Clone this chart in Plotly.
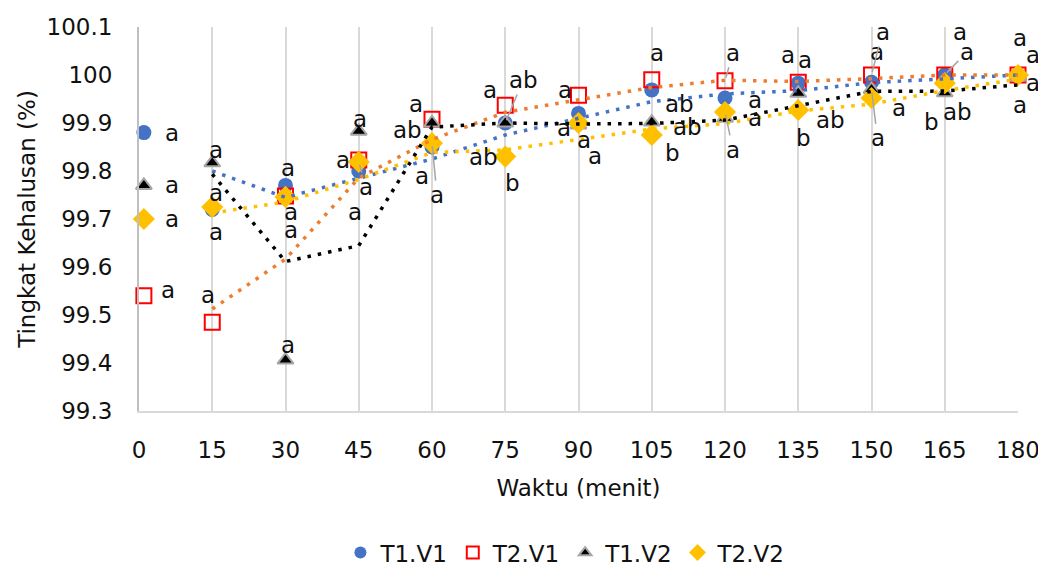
import plotly.graph_objects as go

# ---------------- data ----------------
waktu = [1, 15, 30, 45, 60, 75, 90, 105, 120, 135, 150, 165, 180]
x_ticks = [0, 15, 30, 45, 60, 75, 90, 105, 120, 135, 150, 165, 180]

t1v1 = [99.88, 99.72, 99.77, 99.80, 99.85, 99.90, 99.92, 99.969, 99.952, 99.983, 99.985, 100.0, 100.0]
t2v1 = [99.54, 99.485, 99.748, 99.823, 99.908, 99.937, 99.958, 99.99, 99.988, 99.985, 100.0, 100.0, 100.0]
t1v2 = [99.77, 99.817, 99.406, 99.883, 99.90, 99.90, 99.896, 99.902, 99.91, 99.962, 99.97, 99.963, 99.996]
t2v2 = [99.70, 99.725, 99.746, 99.819, 99.858, 99.83, 99.90, 99.875, 99.923, 99.927, 99.952, 99.983, 100.0]

lab_t1v1 = ["a", "a", "a", "a", "a", "ab", "a", "ab", "a", "a", "a", "a", "a"]
lab_t2v1 = ["a", "a", "a", "a", "a", "a", "a", "a", "a", "a", "a", "a", "a"]
lab_t1v2 = ["a", "a", "a", "a", "ab", "ab", "a", "ab", "a", "ab", "a", "ab", "a"]
lab_t2v2 = ["a", "a", "a", "a", "a", "b", "a", "b", "a", "b", "a", "b", "a"]

series_names = ["T1.V1", "T2.V1", "T1.V2", "T2.V2"]

# ---------------- style ----------------
FONT = "DejaVu Sans"
FS = 23
TXT = "#111111"

# label offsets in pixels (dx, dy, leader)
off_t1v1 = [(28, 0, 0), (4, 23, 0), (2, -17, 0), (-4, 41, 0), (-10, 29, 0), (-22, 34, 0),
            (-15, 15, 0), (28, 14, 0), (30, 2, 0), (7, -23, 0), (5, -30, 0), (22, -23, 1), (15, -20, 0)]
off_t2v1 = [(24, -6, 0), (-4, -27, 0), (5, 16, 0), (-16, 0, 0), (-16, -15, 0), (-15, -15, 0),
            (-14, -5, 0), (5, -27, 0), (8, -28, 1), (-10, -27, 0), (11, -43, 1), (15, -43, 0), (2, -37, 0)]
off_t1v2 = [(28, 0, 0), (4, -13, 0), (2, -15, 0), (1, -12, 0), (-25, 7, 0), (18, -43, 1),
            (16, 31, 0), (36, 5, 0), (30, 0, 0), (32, 27, 0), (6, 49, 1), (13, 19, 0), (15, 6, 0)]
off_t2v2 = [(28, 0, 0), (4, -14, 0), (5, 33, 0), (7, 25, 1), (5, 52, 1), (7, 26, 0),
            (5, 17, 0), (21, 18, 0), (8, 38, 1), (5, 28, 0), (27, 10, 0), (-13, 39, 0), (2, 30, 0)]

trend_colors = ["#4472C4", "#ED7D31", "#000000", "#FFC000"]
markers = [
    dict(symbol="circle", size=15, color="#4472C4"),
    dict(symbol="square-open", size=15, color="#FF0000", line=dict(color="#FF0000", width=2)),
    dict(symbol="triangle-up", size=14, color="#000000", line=dict(color="#A5A5A5", width=2)),
    dict(symbol="diamond", size=17, color="#FFC000"),
]
legend_markers = [
    dict(symbol="circle", size=12, color="#4472C4"),
    dict(symbol="square-open", size=12, color="#FF0000", line=dict(color="#FF0000", width=2)),
    dict(symbol="triangle-up", size=11, color="#000000", line=dict(color="#A5A5A5", width=2)),
    dict(symbol="diamond", size=13, color="#FFC000"),
]

values = [t1v1, t2v1, t1v2, t2v2]
labels = [lab_t1v1, lab_t2v1, lab_t1v2, lab_t2v2]
offsets = [off_t1v1, off_t2v1, off_t1v2, off_t2v2]

fig = go.Figure()

for name, ys, mk in zip(series_names, values, markers):
    fig.add_trace(go.Scatter(x=waktu, y=ys, mode="markers", name=name, marker=mk,
                             cliponaxis=False, showlegend=False))

# moving-average (period 2) trendlines, as in the original
for ys, c in zip(values, trend_colors):
    ma_x = waktu[1:]
    ma_y = [(ys[i - 1] + ys[i]) / 2 for i in range(1, len(ys))]
    fig.add_trace(go.Scatter(x=ma_x, y=ma_y, mode="lines", showlegend=False, hoverinfo="skip",
                             line=dict(color=c, width=3.5, dash="3.5px,7px")))

# legend entries (smaller symbols, as in the reference legend)
for name, mk in zip(series_names, legend_markers):
    fig.add_trace(go.Scatter(x=[None], y=[None], mode="markers", name=name, marker=mk,
                             showlegend=True))

annotations = []
for ys, labs, offs in zip(values, labels, offsets):
    for xv, yv, t, (dx, dy, lead) in zip(waktu, ys, labs, offs):
        if lead:
            annotations.append(dict(x=xv, y=yv, xref="x", yref="y", text=t, showarrow=True,
                                    ax=dx, ay=dy, arrowhead=0, arrowwidth=1.5,
                                    arrowcolor="#A5A5A5", standoff=3,
                                    font=dict(family=FONT, size=FS, color=TXT)))
        else:
            annotations.append(dict(x=xv, y=yv, xref="x", yref="y", text=t, showarrow=False,
                                    xshift=dx, yshift=-dy,
                                    font=dict(family=FONT, size=FS, color=TXT)))

# the page body keeps a default 8px margin, so the figure is sized to fit inside it
fig.update_layout(
    width=1038, height=558,
    margin=dict(l=131, r=28, t=19, b=155, autoexpand=False),
    paper_bgcolor="white", plot_bgcolor="white",
    font=dict(family=FONT, size=FS, color=TXT),
    annotations=annotations,
    legend=dict(orientation="h", xref="container", yref="container",
                x=0.537, xanchor="center", y=0.024, yanchor="middle",
                font=dict(family=FONT, size=FS, color=TXT), traceorder="normal",
                itemwidth=30, bgcolor="rgba(0,0,0,0)"),
    showlegend=True,
)

fig.update_xaxes(
    range=[0, 180], tickmode="array", tickvals=x_ticks, ticktext=[str(v) for v in x_ticks],
    showgrid=True, gridcolor="#D9D9D9", gridwidth=2, zeroline=False,
    showline=True, linecolor="#D9D9D9", linewidth=1.5, automargin=False,
    ticks="", ticklabelstandoff=18,
    tickfont=dict(family=FONT, size=FS, color=TXT),
    title=dict(text="Waktu (menit)", font=dict(family=FONT, size=FS, color=TXT), standoff=18),
)
fig.update_yaxes(
    range=[99.3, 100.1], dtick=0.1, tick0=99.3, showgrid=False, zeroline=False,
    showline=True, linecolor="#BFBFBF", linewidth=2, automargin=False,
    ticks="", ticklabelstandoff=20,
    tickfont=dict(family=FONT, size=FS, color=TXT),
    title=dict(text="Tingkat Kehalusan (%)", font=dict(family=FONT, size=FS, color=TXT), standoff=4),
)

fig.write_html("out.html")
